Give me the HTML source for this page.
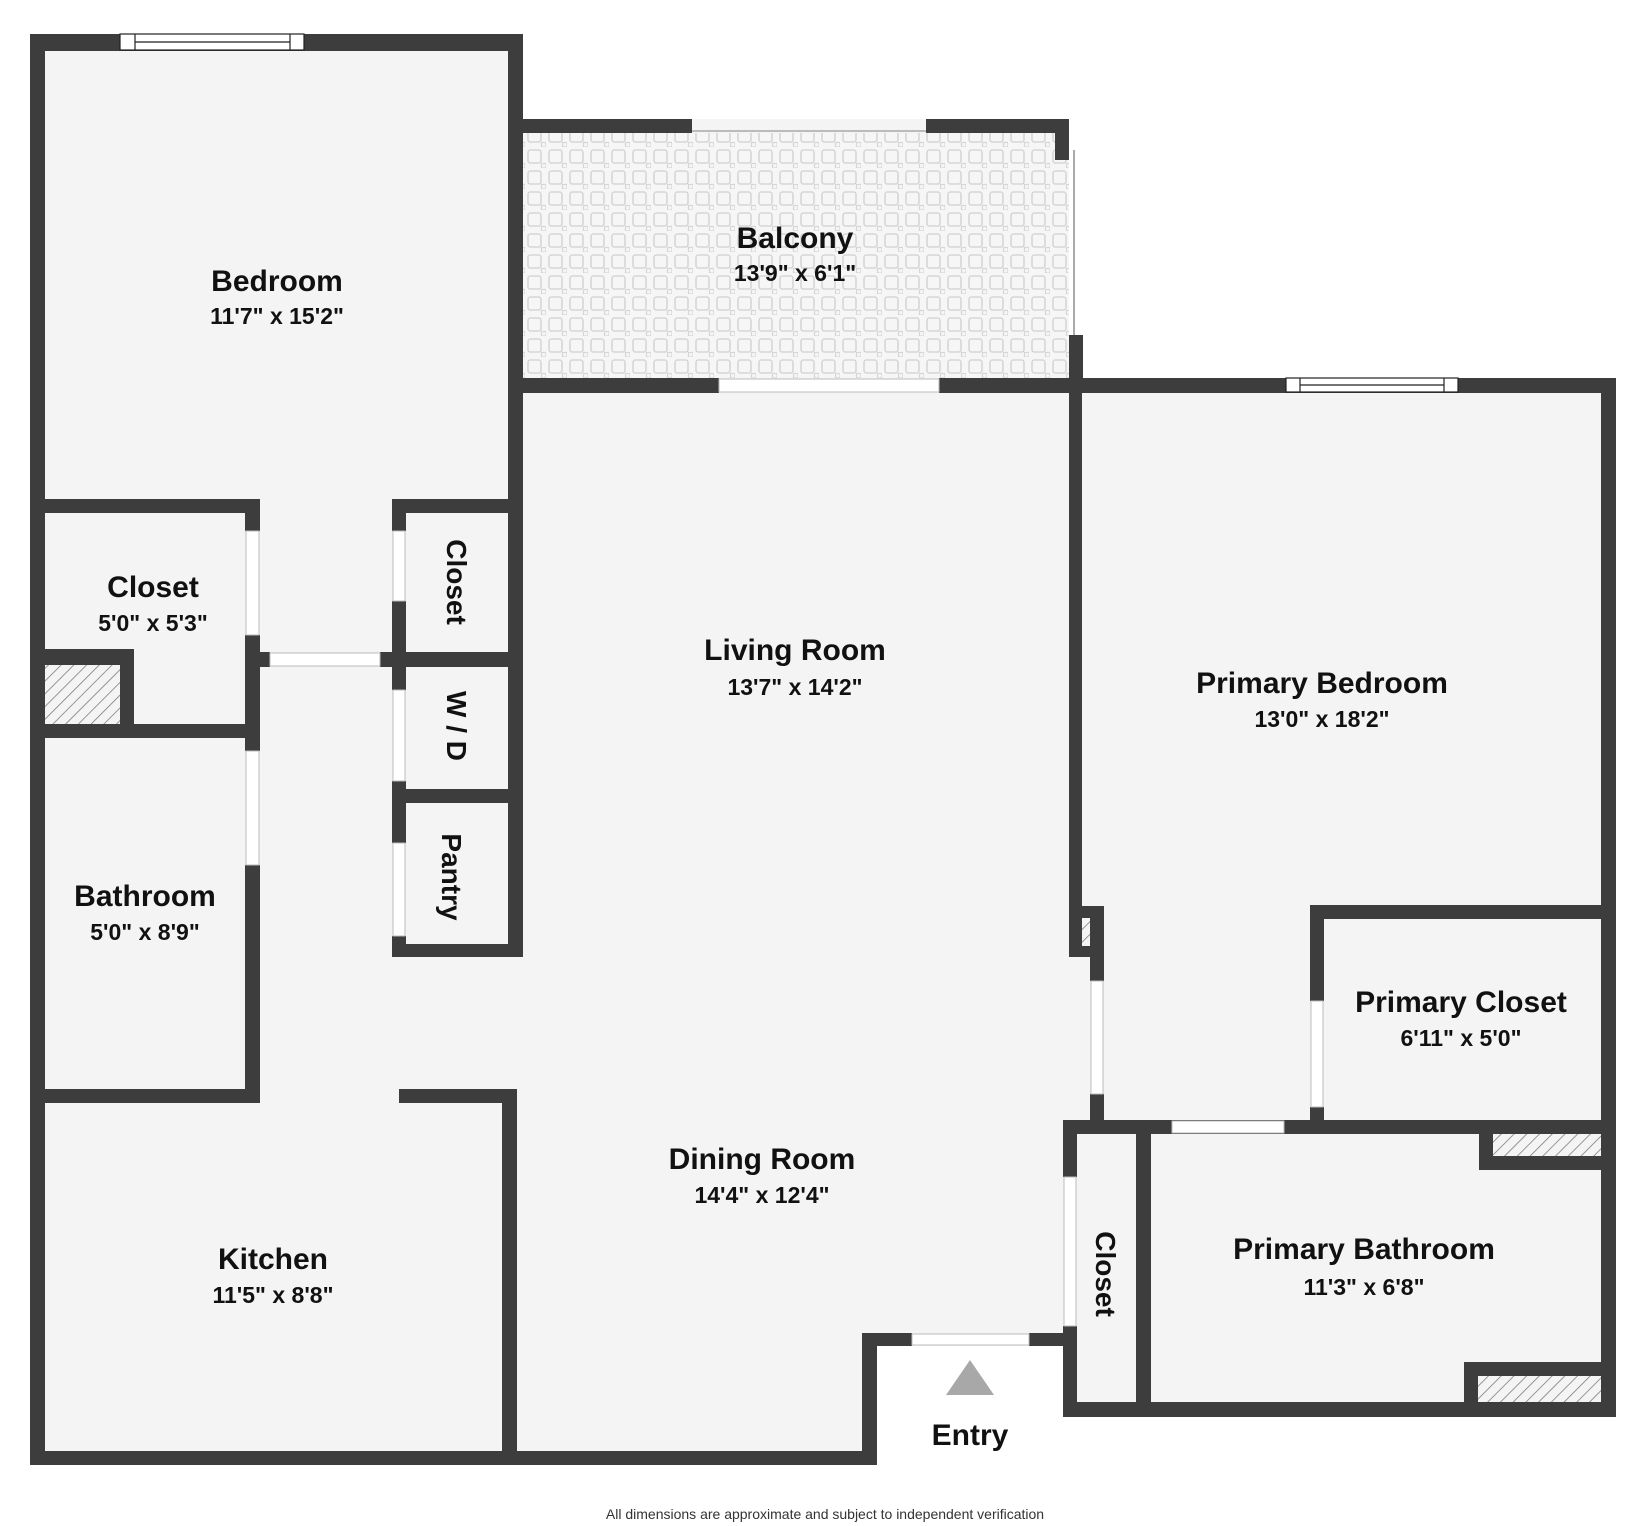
<!DOCTYPE html>
<html><head><meta charset="utf-8"><style>
html,body{margin:0;padding:0;background:#fff}
svg{display:block}
text{font-family:"Liberation Sans",sans-serif;font-weight:bold;fill:#111;text-anchor:middle}
.l{font-size:30px}.d{font-size:23px}.v{font-size:28px}
</style></head><body>
<svg width="1646" height="1526" viewBox="0 0 1646 1526" xmlns="http://www.w3.org/2000/svg">
<defs>
<pattern id="tile" width="21" height="21" patternUnits="userSpaceOnUse">
<rect width="21" height="21" fill="#f6f6f6"/>
<rect x="3" y="3" width="13" height="13" rx="2.5" fill="none" stroke="#d6d6d6" stroke-width="1.6"/>
<rect x="16.5" y="16.5" width="4.5" height="4.5" fill="none" stroke="#d6d6d6" stroke-width="1.2"/>
</pattern>
<pattern id="hatch" width="9" height="9" patternUnits="userSpaceOnUse" patternTransform="rotate(45)">
<rect width="9" height="9" fill="#f4f4f4"/>
<line x1="0" y1="0" x2="0" y2="9" stroke="#777" stroke-width="1.5"/>
</pattern>
</defs>
<polygon points="30,34 523,34 523,119 1069,119 1069,378 1616,378 1616,1417 1063,1417 1063,1346 877,1346 877,1465 30,1465" fill="#f4f4f4"/>
<rect x="523" y="133" width="546" height="245" fill="url(#tile)"/>
<line x1="692" y1="131" x2="926" y2="131" stroke="#bbb" stroke-width="2"/>
<line x1="1074" y1="150" x2="1074" y2="335" stroke="#aaa" stroke-width="2"/>
<g fill="#3d3d3d">
<rect x="30" y="34" width="15" height="1431"/>
<rect x="30" y="34" width="493" height="17"/>
<rect x="508" y="34" width="15" height="923"/>
<rect x="523" y="119" width="169" height="14"/>
<rect x="926" y="119" width="143" height="14"/>
<rect x="1055" y="119" width="14" height="41"/>
<rect x="1069" y="335" width="14" height="43"/>
<rect x="523" y="378" width="196" height="15"/>
<rect x="939" y="378" width="130" height="15"/>
<rect x="1069" y="378" width="547" height="15"/>
<rect x="1601" y="378" width="15" height="1039"/>
<rect x="1069" y="393" width="13" height="564"/>
<rect x="1069" y="906" width="35" height="51"/>
<rect x="1090" y="957" width="14" height="24"/>
<rect x="1090" y="1094" width="14" height="40"/>
<rect x="1310" y="905" width="306" height="14"/>
<rect x="1310" y="905" width="14" height="96"/>
<rect x="1310" y="1107" width="14" height="27"/>
<rect x="1063" y="1120" width="553" height="14"/>
<rect x="1479" y="1134" width="14" height="36"/>
<rect x="1479" y="1156" width="122" height="14"/>
<rect x="1063" y="1120" width="14" height="57"/>
<rect x="1063" y="1326" width="14" height="91"/>
<rect x="1136" y="1134" width="15" height="268"/>
<rect x="1063" y="1402" width="553" height="15"/>
<rect x="1464" y="1362" width="14" height="40"/>
<rect x="1464" y="1362" width="137" height="14"/>
<rect x="862" y="1333" width="50" height="13"/>
<rect x="1029" y="1333" width="48" height="13"/>
<rect x="862" y="1333" width="15" height="132"/>
<rect x="30" y="1451" width="847" height="14"/>
<rect x="399" y="1089" width="118" height="14"/>
<rect x="502" y="1089" width="15" height="376"/>
<rect x="30" y="1089" width="230" height="14"/>
<rect x="245" y="499" width="15" height="32"/>
<rect x="245" y="635" width="15" height="116"/>
<rect x="245" y="865" width="15" height="238"/>
<rect x="30" y="499" width="230" height="14"/>
<rect x="30" y="724" width="230" height="14"/>
<rect x="45" y="649" width="89" height="16"/>
<rect x="120" y="649" width="14" height="75"/>
<rect x="260" y="652" width="10" height="15"/>
<rect x="380" y="652" width="12" height="15"/>
<rect x="392" y="499" width="14" height="32"/>
<rect x="392" y="601" width="14" height="89"/>
<rect x="392" y="781" width="14" height="62"/>
<rect x="392" y="936" width="14" height="21"/>
<rect x="392" y="499" width="130" height="14"/>
<rect x="392" y="652" width="130" height="15"/>
<rect x="392" y="789" width="130" height="14"/>
<rect x="392" y="944" width="130" height="13"/>
</g>
<g fill="url(#hatch)">
<rect x="45" y="665" width="75" height="59"/>
<rect x="1493" y="1134" width="108" height="22"/>
<rect x="1478" y="1376" width="123" height="26"/>
<rect x="1082" y="918" width="8" height="28"/>
</g>
<g fill="#fff" stroke="#bbb" stroke-width="1">
<rect x="270" y="653" width="110" height="13"/>
<rect x="719" y="379" width="220" height="13"/>
<rect x="1172" y="1121" width="112" height="12"/>
<rect x="912" y="1334" width="117" height="11"/>
<rect x="246" y="531" width="13" height="104"/>
<rect x="246" y="751" width="13" height="114"/>
<rect x="393" y="531" width="12" height="70"/>
<rect x="393" y="690" width="12" height="91"/>
<rect x="393" y="843" width="12" height="93"/>
<rect x="1091" y="981" width="12" height="113"/>
<rect x="1311" y="1001" width="12" height="106"/>
<rect x="1064" y="1177" width="12" height="149"/>
</g>
<g stroke="#222" stroke-width="1.2" fill="#fff">
<rect x="120" y="34" width="184" height="16"/>
<line x1="135" y1="34" x2="135" y2="50"/><line x1="290" y1="34" x2="290" y2="50"/>
<line x1="135" y1="42" x2="290" y2="42"/>
<rect x="1286" y="378" width="172" height="14"/>
<line x1="1300" y1="378" x2="1300" y2="392"/><line x1="1444" y1="378" x2="1444" y2="392"/>
<line x1="1300" y1="385" x2="1444" y2="385"/>
</g>
<polygon points="970,1360 946,1395 994,1395" fill="#a8a8a8"/>
<text class="l" x="277" y="291">Bedroom</text>
<text class="d" x="277" y="324">11'7" x 15'2"</text>
<text class="l" x="795" y="248">Balcony</text>
<text class="d" x="795" y="281">13'9" x 6'1"</text>
<text class="l" x="795" y="660">Living Room</text>
<text class="d" x="795" y="695">13'7" x 14'2"</text>
<text class="l" x="1322" y="693">Primary Bedroom</text>
<text class="d" x="1322" y="727">13'0" x 18'2"</text>
<text class="l" x="153" y="597">Closet</text>
<text class="d" x="153" y="631">5'0" x 5'3"</text>
<text class="l" x="145" y="906">Bathroom</text>
<text class="d" x="145" y="940">5'0" x 8'9"</text>
<text class="l" x="273" y="1269">Kitchen</text>
<text class="d" x="273" y="1303">11'5" x 8'8"</text>
<text class="l" x="762" y="1169">Dining Room</text>
<text class="d" x="762" y="1203">14'4" x 12'4"</text>
<text class="l" x="1461" y="1012">Primary Closet</text>
<text class="d" x="1461" y="1046">6'11" x 5'0"</text>
<text class="l" x="1364" y="1259">Primary Bathroom</text>
<text class="d" x="1364" y="1295">11'3" x 6'8"</text>
<text class="l" x="970" y="1445">Entry</text>
<text class="v" transform="translate(457,582) rotate(90)" y="10">Closet</text>
<text class="v" transform="translate(457,726) rotate(90)" y="10">W / D</text>
<text class="v" transform="translate(452,877) rotate(90)" y="10">Pantry</text>
<text class="v" transform="translate(1106,1274) rotate(90)" y="10">Closet</text>
<text x="825" y="1519" style="font-size:14px;font-weight:normal;fill:#333">All dimensions are approximate and subject to independent verification</text>
</svg>
</body></html>
